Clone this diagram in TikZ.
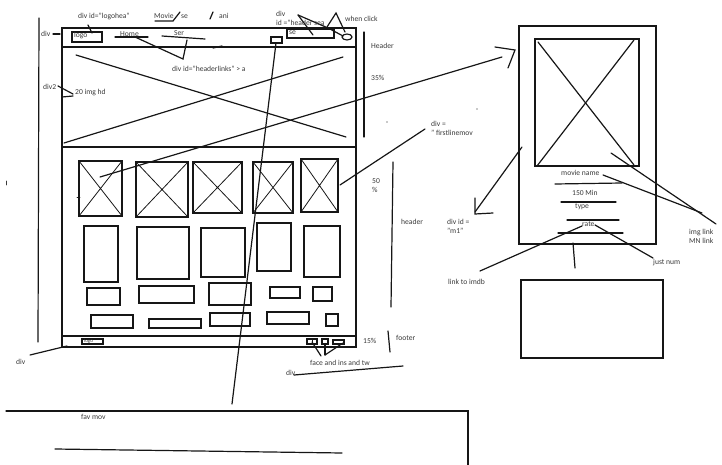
\documentclass[tikz,border=0pt]{standalone}
\usepackage{fontspec}
\setmainfont{Carlito}
\usetikzlibrary{calc}
\definecolor{ink}{HTML}{161616}
\definecolor{note}{HTML}{3A3A3A}
\tikzset{
  pen/.style={draw=ink, line width=1.2pt, line cap=round},
  fine/.style={draw=ink, line width=0.8pt, line cap=round},
  lbl/.style={font=\fontsize{7.6}{9}\selectfont, text=note, inner sep=0pt, anchor=west},
  tiny/.style={font=\fontsize{5}{6}\selectfont, text=note, inner sep=0pt, anchor=west}
}
\begin{document}
\begin{tikzpicture}[x=1pt, y=-1pt]
\useasboundingbox (0,0) rectangle (722,465);

% page frame
\draw[pen] (62,28) rectangle (356,347);
\draw[pen] (62,47) -- (356,47);
\draw[pen] (62,147) -- (356,147);
\draw[pen] (62,336) -- (356,336);
\draw[pen] (39,18) -- (38,342);
\draw[pen] (53,34) -- (60,34);

% header bar
\draw[pen] (72,32) rectangle (102,42);
\draw[pen] (88,25) -- (92,33);
\draw[pen] (155,21) -- (173,21) -- (180,12);
\draw[pen] (210,19) -- (213,12);
\draw[pen] (115,37) -- (148,37);
\draw[pen] (162,36) -- (205,39);
\draw[pen] (135,37) -- (183,59) -- (187,40);
\draw[pen] (213,48) -- (222,46);
\draw[pen] (271,37) rectangle (282,43);
\draw[pen] (287,29) rectangle (334,38);
\draw[pen] (347,37) ellipse [x radius=5, y radius=3];
\draw[pen] (330,29) -- (343,36);
\draw[pen] (298,15) -- (313,35);
\draw[pen] (298,15) -- (328,28);
\draw[pen] (327,27) -- (336,13) -- (345,32);

% hero image
\draw[pen] (76,55) -- (346,137);
\draw[pen] (64,143) -- (343,57);
\draw[pen] (58,86) -- (73,94);
\draw[pen] (62,97) -- (73,96);
\draw[pen] (364,32) -- (364,137);

% movie grid
\foreach \xa/\ya/\xb/\yb in {79/161/122/216, 136/162/188/217, 193/162/242/213, 253/162/293/213, 301/159/338/212}{
  \draw[pen] (\xa,\ya) rectangle (\xb,\yb);
  \draw[fine] (\xa,\ya) -- (\xb,\yb) (\xb,\ya) -- (\xa,\yb);
}
\foreach \xa/\ya/\xb/\yb in {84/226/118/282, 137/227/189/279, 201/228/245/277, 257/223/291/271, 304/226/340/277,
  87/288/120/305, 139/286/194/303, 209/283/251/305, 270/287/300/298, 313/287/332/301,
  91/315/133/328, 149/319/201/328, 210/313/250/326, 267/312/309/324, 326/314/338/326}{
  \draw[pen] (\xa,\ya) rectangle (\xb,\yb);
}
\draw[pen] (393,162) -- (391,307);
\draw[pen] (425,129) -- (340,185);
\draw[fine] (77,197) -- (80,197);
\draw[fine, draw=note] (6,181) -- (6,185);
\fill[ink] (387,122) circle (0.7) (477,109) circle (0.7);

% long pointers across the page
\draw[pen] (276,43) -- (232,404);
\draw[pen] (100,177) -- (502,57);
\draw[pen] (495,47) -- (515,50) -- (508,68);

% footer
\draw[pen] (82,339) rectangle (103,344);
\draw[pen] (30,355) -- (67,346);
\draw[pen] (307,339) rectangle (317,344);
\draw[fine] (312,339) -- (312,344);
\draw[pen] (322,339) rectangle (328,344);
\draw[pen] (333,340) rectangle (344,344);
\draw[pen] (321,356) -- (312,342);
\draw[pen] (325,355) -- (325,344);
\draw[pen] (325,355) -- (343,343);
\draw[pen] (388,331) -- (390,352);
\draw[pen] (294,375) -- (403,366);

% favourite movies strip
\draw[pen] (6,411) -- (468,411) -- (468,465);
\draw[pen] (55,449) -- (342,453);

% movie card
\draw[pen] (519,26) rectangle (656,244);
\draw[pen] (535,39) rectangle (639,166);
\draw[pen] (538,42) -- (634,165);
\draw[pen] (634,40) -- (537,166);
\draw[pen] (555,184) -- (622,183);
\draw[pen] (561,202) -- (616,202);
\draw[pen] (567,220) -- (619,220);
\draw[pen] (558,233) -- (623,233);
\draw[pen] (603,175) -- (702,213);
\draw[pen] (611,153) -- (716,224);
\draw[pen] (595,225) -- (653,258);
\draw[pen] (582,226) -- (480,271);
\draw[pen] (573,243) -- (575,268);
\draw[pen] (521,280) rectangle (663,358);
\draw[pen] (522,147) -- (475,212);
\draw[pen] (475,198) -- (475,214) -- (493,213);

% labels
\node[lbl] (logohea) at (78,16) {div id="logohea"};
\node[lbl] (movie) at (154,16) {Movie};
\node[lbl] (movse) at (181,17) {se};
\node[lbl] (ani) at (219,16) {ani};
\node[lbl] (hsdiv) at (276,14) {div};
\node[lbl] (hsid) at (276,23) {id ="header sea};
\node[lbl] (click) at (345,19) {when click};
\node[lbl] (divtop) at (41,34) {div};
\node[lbl] (logo) at (74,36) {logo};
\node[lbl] (home) at (120,34) {Home};
\node[lbl] (ser) at (174,33) {Ser};
\node[lbl] (search) at (289,33) {se};
\node[lbl] (header) at (371,46) {Header};
\node[lbl] (hlinks) at (172,69) {div id="headerlinks" > a};
\node[lbl] (hpct) at (371,78) {35\%};
\node[lbl] (divtwo) at (43,87) {div2};
\node[lbl] (imghd) at (75,93) {20 img hd};
\node[lbl, align=left] (firstline) at (431,128) {div =\\" firstlinemov};
\node[lbl, align=left] (mpct) at (372,186) {50\\\%};
\node[lbl] (mheader) at (401,222) {header};
\node[lbl, align=left] (mone) at (447,226) {div id =\\"m1"};
\node[lbl] (mname) at (561,173) {movie name};
\node[lbl] (mtime) at (572,193) {150 Min};
\node[lbl] (mtype) at (575,207) {type};
\node[lbl] (mrate) at (582,224) {rate};
\node[lbl, align=left] (imglink) at (689,236) {img link\\MN link};
\node[lbl] (justnum) at (653,263) {just num};
\node[lbl] (imdb) at (448,282) {link to imdb};
\node[tiny] (flogo) at (84,341.5) {logo};
\node[lbl] (fpct) at (363,341) {15\%};
\node[lbl] (footer) at (396,338) {footer};
\node[lbl] (divfoot) at (16,362) {div};
\node[lbl] (social) at (310,363) {face and ins and tw};
\node[lbl] (divsocial) at (286,373) {div};
\node[lbl] (favmov) at (81,417) {fav mov};
\end{tikzpicture}
\end{document}
